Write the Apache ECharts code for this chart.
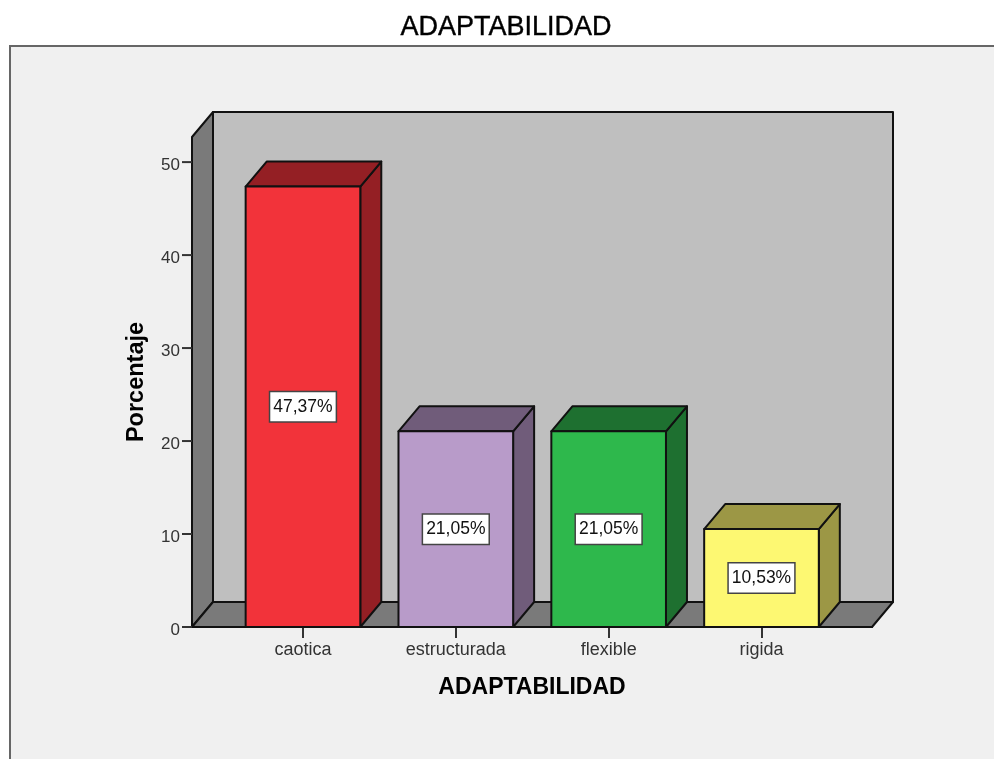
<!DOCTYPE html>
<html>
<head>
<meta charset="utf-8">
<title>ADAPTABILIDAD</title>
<script src="https://cdn.jsdelivr.net/npm/echarts@6/dist/echarts.min.js"></script>
<style>
  html, body { margin: 0; padding: 0; background: #fff; overflow: hidden; }
  #chart { width: 994px; height: 759px; }
</style>
</head>
<body>
<div id="chart"></div>
<script>
const categories = ['caotica', 'estructurada', 'flexible', 'rigida']
const percentages = [47.37, 21.05, 21.05, 10.53]
const frontColors = ['#f2333a', '#b89bc9', '#2eb84c', '#fdf872']
const sideColors = ['#941f24', '#705c7a', '#1e7030', '#9c9745']
const yTicks = [0, 10, 20, 30, 40, 50]
const xTicks = [0, 1, 2, 3]

const FONT = '"Liberation Sans", Arial, sans-serif'
const xMin = -0.726
const xMax = 3.723
const yMax = 52.7
const depthX = 21 // profundidad 3D
const depthY = -25
const barRatio = 0.75
const tickLength = 10
const edge = { stroke: '#111', lineWidth: 2, lineJoin: 'round' }

function shift(p, dx, dy) {
  return [p[0] + dx, p[1] + dy]
}

function face(points, fill) {
  return { type: 'polygon', shape: { points }, style: { fill, ...edge } }
}

// paredes y suelo del fondo, con las marcas del eje Y
function renderWalls(params, api) {
  const a = api.coord([xMin, 0])
  const b = api.coord([xMax, 0])
  const c = api.coord([xMin, yMax])
  const d = api.coord([xMax, yMax])
  const a2 = shift(a, depthX, depthY)
  const b2 = shift(b, depthX, depthY)
  const c2 = shift(c, depthX, depthY)
  const d2 = shift(d, depthX, depthY)
  const ticks = yTicks.map((v) => {
    const p = api.coord([xMin, v])
    return {
      type: 'line',
      shape: { x1: p[0] - tickLength, y1: p[1], x2: p[0], y2: p[1] },
      style: { stroke: '#333', lineWidth: 2 }
    }
  })
  return {
    type: 'group',
    children: [
      face([a2, b2, d2, c2], '#bfbfbf'),
      face([a, c, c2, a2], '#7a7a7a'),
      face([a, a2, b2, b], '#7a7a7a'),
      ...ticks
    ]
  }
}

function renderBar(params, api) {
  const i = params.dataIndex
  const x = api.value(0)
  const y = api.value(1)
  const w = api.size([1, 0])[0] * barRatio
  const base = api.coord([x, 0])
  const top = api.coord([x, y])
  const bl = [base[0] - w / 2, base[1]]
  const br = [base[0] + w / 2, base[1]]
  const tl = [top[0] - w / 2, top[1]]
  const tr = [top[0] + w / 2, top[1]]
  return {
    type: 'group',
    children: [
      face([br, tr, shift(tr, depthX, depthY), shift(br, depthX, depthY)], sideColors[i]),
      face([tl, shift(tl, depthX, depthY), shift(tr, depthX, depthY), tr], sideColors[i]),
      face([bl, tl, tr, br], frontColors[i]),
      {
        type: 'text',
        x: base[0],
        y: (base[1] + top[1]) / 2,
        style: {
          text: y.toFixed(2).replace('.', ',') + '%',
          font: '17.5px ' + FONT,
          fill: '#111',
          align: 'center',
          verticalAlign: 'middle',
          backgroundColor: '#fff',
          borderColor: '#444',
          borderWidth: 1.5,
          padding: [6, 3, 5, 3]
        }
      }
    ]
  }
}

const chart = echarts.init(document.getElementById('chart'))
chart.setOption({
  animation: false,
  backgroundColor: '#fff',
  graphic: [
    {
      type: 'rect',
      z: -10,
      shape: { x: 10, y: 46, width: 1100, height: 800 },
      style: { fill: '#f0f0f0', stroke: '#666', lineWidth: 2 }
    }
  ],
  title: {
    text: 'ADAPTABILIDAD',
    left: 501,
    top: 9,
    textAlign: 'center',
    textStyle: { fontFamily: FONT, fontSize: 27, fontWeight: 'normal', color: '#000', textBorderColor: '#000', textBorderWidth: 0.4 }
  },
  grid: { left: 192, right: 122, top: 137, bottom: 132 },
  xAxis: {
    type: 'value',
    min: xMin,
    max: xMax,
    name: 'ADAPTABILIDAD',
    nameLocation: 'middle',
    nameGap: 49,
    nameTextStyle: { fontFamily: FONT, fontSize: 23, fontWeight: 'bold', color: '#000' },
    splitLine: { show: false },
    axisLine: { lineStyle: { color: '#111', width: 2 } },
    axisTick: { customValues: xTicks, length: 11, lineStyle: { color: '#333', width: 2 } },
    axisLabel: {
      customValues: xTicks,
      formatter: (v) => categories[v],
      margin: 14,
      fontFamily: FONT,
      fontSize: 18,
      color: '#333'
    }
  },
  yAxis: {
    type: 'value',
    min: 0,
    max: yMax,
    name: 'Porcentaje',
    nameLocation: 'middle',
    nameGap: 43,
    nameTextStyle: { fontFamily: FONT, fontSize: 23.5, fontWeight: 'bold', color: '#000' },
    splitLine: { show: false },
    axisLine: { show: true, lineStyle: { color: '#111', width: 2 } },
    axisTick: { show: false },
    axisLabel: {
      customValues: yTicks,
      margin: 12,
      formatter: '{tick|{value}}',
      rich: {
        tick: { padding: [6, 0, 0, 0], fontFamily: FONT, fontSize: 17, color: '#333' }
      }
    }
  },
  series: [
    { type: 'custom', silent: true, z: 1, renderItem: renderWalls, data: [[0, 0]] },
    {
      type: 'custom',
      silent: true,
      z: 2,
      renderItem: renderBar,
      data: percentages.map((v, i) => [i, v])
    }
  ]
})
</script>
</body>
</html>
